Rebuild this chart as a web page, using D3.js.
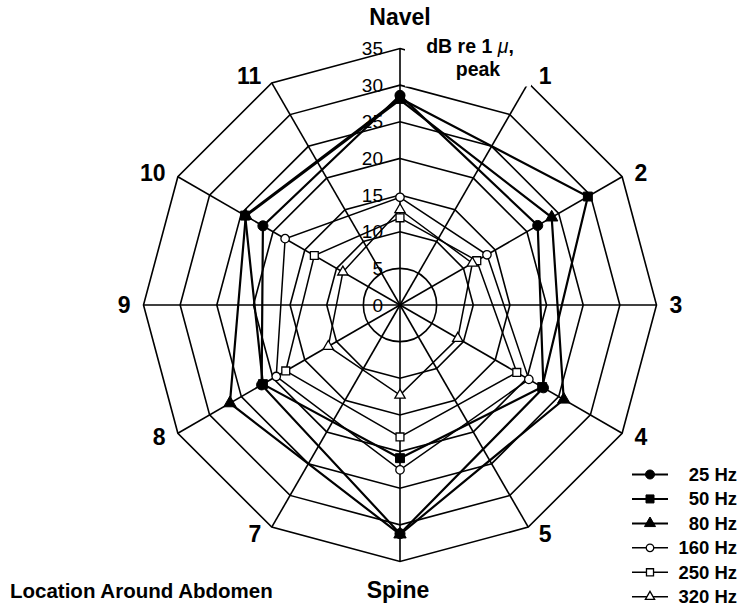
<!DOCTYPE html>
<html>
<head>
<meta charset="utf-8">
<script src="https://cdn.jsdelivr.net/npm/d3@7"></script>
<style>
  html, body { margin: 0; padding: 0; background: #fff; }
  svg { display: block; font-family: "Liberation Sans", Arial, Helvetica, sans-serif; }
</style>
</head>
<body>
<svg id="chart" width="740" height="611"></svg>
<script>
// ---------------- data ----------------
const spokeLabels = ["Navel", "1", "2", "3", "4", "5", "Spine", "7", "8", "9", "10", "11"];
const locations = ["Navel", "2", "4", "Spine", "8", "10"];
const ringTicks = [0, 5, 10, 15, 20, 25, 30, 35];
const seriesNames = ["25 Hz", "50 Hz", "80 Hz", "160 Hz", "250 Hz", "320 Hz"];
const hz25  = [28.6, 21.7, 22.6, 31.2, 21.8, 21.6];
const hz50  = [28.2, 29.6, 22.4, 20.9, 21.6, 24.4];
const hz80  = [28.0, 23.9, 25.8, 31.3, 26.8, 24.3];
const hz160 = [14.7, 13.7, 20.3, 22.5, 19.5, 18.1];
const hz250 = [11.9, 12.1, 18.4, 18.0, 18.0, 13.5];
const hz320 = [13.0, 11.4, 9.1, 12.3, 11.3, 9.0];
const seriesValues = [hz25, hz50, hz80, hz160, hz250, hz320];
const unitLabel = ["dB re 1 ", "\u03BC", ","];
const unitLabel2 = "peak";
const xTitle = "Location Around Abdomen";

// ---------------- layout ----------------
const svg = d3.select("#chart");
const cx = 400, cy = 305;
const maxV = d3.max(ringTicks);
const r = d3.scaleLinear().domain([0, maxV]).range([0, 256.5]);
const angle = d3.scaleLinear().domain([0, spokeLabels.length]).range([0, 2 * Math.PI]);
const pt = (i, v) => [cx + r(v) * Math.sin(angle(i)), cy - r(v) * Math.cos(angle(i))];

const symbols = [d3.symbolCircle, d3.symbolSquare, d3.symbolTriangle, d3.symbolCircle, d3.symbolSquare, d3.symbolTriangle];
const filled = [true, true, true, false, false, false];
const symSize = [80, 80, 66, 56, 62, 46];

const g = svg.append("g").attr("transform", `translate(${cx},${cy})`);

// rings
ringTicks.filter(t => t > 0).forEach(t => {
  if (t === 5) {
    g.append("circle").attr("r", r(t)).attr("fill", "none").attr("stroke", "#000").attr("stroke-width", 1.6);
  } else {
    const ring = d3.lineRadial()
      .angle((d, i) => angle(i))
      .radius(() => r(t))
      .curve(d3.curveLinearClosed);
    g.append("path").attr("d", ring(spokeLabels)).attr("fill", "none")
      .attr("stroke", "#000").attr("stroke-width", 1.6);
  }
});

// spokes
spokeLabels.forEach((s, i) => {
  const [x, y] = pt(i, maxV);
  svg.append("line").attr("x1", cx).attr("y1", cy).attr("x2", x).attr("y2", y)
    .attr("stroke", "#000").attr("stroke-width", 1.6);
});

// tick labels on the top axis
ringTicks.forEach(t => {
  svg.append("text").attr("x", cx - 17).attr("y", cy - r(t))
    .attr("text-anchor", "end").attr("dominant-baseline", "central")
    .attr("font-size", 19).text(t);
});

// unit label with white background
svg.append("rect").attr("x", 405).attr("y", 30).attr("width", 126).attr("height", 56.5).attr("fill", "#fff");
const ut = svg.append("text").attr("x", 470).attr("y", 53).attr("text-anchor", "middle")
  .attr("font-size", 19.5).attr("font-weight", "bold");
ut.append("tspan").text(unitLabel[0]);
ut.append("tspan").attr("font-style", "italic").attr("font-weight", "normal").text(unitLabel[1]);
ut.append("tspan").text(unitLabel[2]);
svg.append("text").attr("x", 478).attr("y", 76).attr("text-anchor", "middle")
  .attr("font-size", 19.5).attr("font-weight", "bold").text(unitLabel2);

// series
const locIdx = locations.map(l => spokeLabels.indexOf(l));
seriesValues.forEach((vals, s) => {
  const line = d3.lineRadial()
    .angle((d, i) => angle(locIdx[i]))
    .radius(d => r(d))
    .curve(d3.curveLinearClosed);
  g.append("path").attr("d", line(vals)).attr("fill", "none")
    .attr("stroke", "#000").attr("stroke-width", filled[s] ? 2.2 : 1.5)
    .attr("stroke-linejoin", "miter");
});
seriesValues.forEach((vals, s) => {
  vals.forEach((v, i) => {
    const [x, y] = pt(locIdx[i], v);
    svg.append("path").attr("d", d3.symbol(symbols[s], symSize[s])())
      .attr("transform", `translate(${x},${y})`)
      .attr("fill", filled[s] ? "#000" : "#fff")
      .attr("stroke", "#000").attr("stroke-width", filled[s] ? 1 : 1.3);
  });
});

// spoke labels
spokeLabels.forEach((s, i) => {
  const a = angle(i);
  const [vx, vy] = pt(i, maxV);
  const t = svg.append("text").attr("font-size", 23).attr("font-weight", "bold").text(s);
  if (i === 0) {
    t.attr("x", cx).attr("y", 25).attr("text-anchor", "middle");
  } else if (i === 6) {
    t.attr("x", cx - 2).attr("y", 598).attr("text-anchor", "middle");
  } else {
    const sx = Math.sin(a), cyy = Math.cos(a);
    const off = 8 + 5 * Math.abs(sx);
    t.attr("x", vx + off * Math.sign(sx)).attr("y", vy - 8 * cyy)
      .attr("text-anchor", sx > 0 ? "start" : "end")
      .attr("dominant-baseline", "central");
  }
});

// x title
svg.append("text").attr("x", 10).attr("y", 598).attr("font-size", 20.5).attr("font-weight", "bold").text(xTitle);

// legend
const legY = d3.scaleLinear().domain([0, seriesNames.length - 1]).range([474.5, 596.7]);
seriesNames.forEach((name, s) => {
  const y = legY(s);
  svg.append("line").attr("x1", 632).attr("x2", 668).attr("y1", y).attr("y2", y)
    .attr("stroke", "#000").attr("stroke-width", filled[s] ? 2 : 1.4);
  svg.append("path").attr("d", d3.symbol(symbols[s], symSize[s] * 0.8)())
    .attr("transform", `translate(650,${y})`)
    .attr("fill", filled[s] ? "#000" : "#fff")
    .attr("stroke", "#000").attr("stroke-width", filled[s] ? 1 : 1.3);
  svg.append("text").attr("x", 737).attr("y", y).attr("text-anchor", "end")
    .attr("dominant-baseline", "central").attr("font-size", 18.5).attr("font-weight", "bold").text(name);
});
</script>
</body>
</html>
